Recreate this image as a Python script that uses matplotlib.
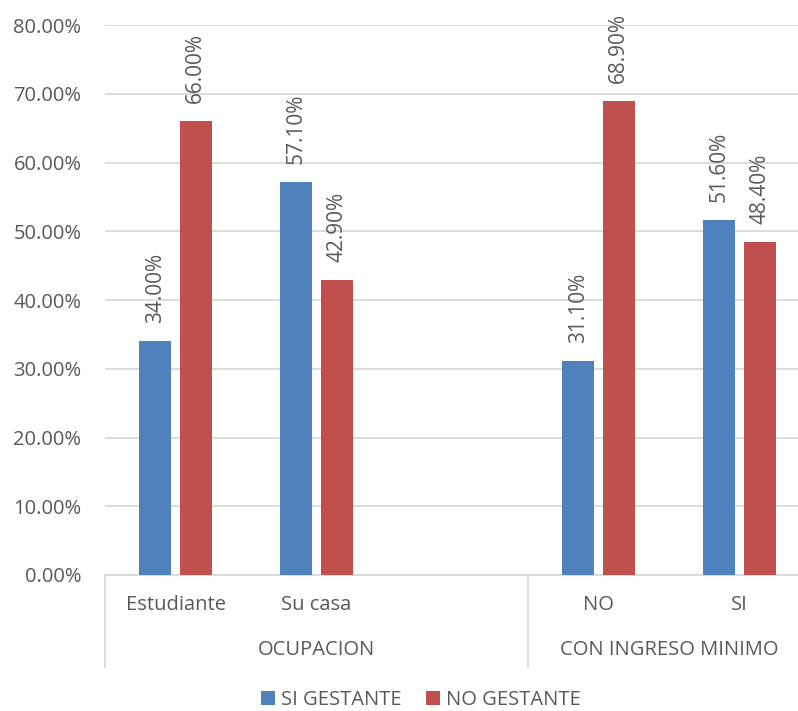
import numpy as np
import matplotlib
matplotlib.use('Agg')
import matplotlib.pyplot as plt
import matplotlib.transforms as mtransforms

plt.rcParams['font.family'] = ['Open Sans', 'DejaVu Sans']

categorias = ['Estudiante', 'Su casa', '', 'NO', 'SI']
si_gestante = [34.0, 57.1, np.nan, 31.1, 51.6]
no_gestante = [66.0, 42.9, np.nan, 68.9, 48.4]
grupos = ['OCUPACION', 'CON INGRESO MINIMO']
grupo_centros = [1, 3.5]
separadores = [-0.5, 2.5, 4.5]

azul = '#4F81BD'
rojo = '#C0504D'
gris_txt = '#595959'
gris_lin = '#D9D9D9'

fig = plt.figure(figsize=(7.98, 7.11), dpi=100)
ax = fig.add_axes([105 / 798, 136 / 711, 705 / 798, 550 / 711])

x = np.arange(len(categorias))
w = 0.227
off = 0.142
b1 = ax.bar(x - off, si_gestante, w, color=azul, label='SI GESTANTE', zorder=3)
b2 = ax.bar(x + off, no_gestante, w, color=rojo, label='NO GESTANTE', zorder=3)

for xs, vals in [(x - off, si_gestante), (x + off, no_gestante)]:
    for xi, v in zip(xs, vals):
        if np.isnan(v):
            continue
        ax.annotate('%.2f%%' % v, (xi, v), xytext=(0, 13), textcoords='offset points',
                    rotation=90, ha='center', va='bottom', fontsize=15, color=gris_txt)

ax.set_xlim(-0.5, 4.5)
ax.set_ylim(0, 80)
ax.set_yticks(np.arange(0, 81, 10))
ax.set_yticklabels(['%.2f%%' % t for t in np.arange(0, 81, 10)])
ax.tick_params(axis='y', length=0, pad=17, labelsize=14.5, labelcolor=gris_txt)
ax.set_xticks([])
ax.yaxis.grid(True, color=gris_lin, linewidth=1.3, zorder=0)
for s in ['top', 'right', 'left']:
    ax.spines[s].set_visible(False)
ax.spines['bottom'].set_color(gris_lin)
ax.spines['bottom'].set_linewidth(1.3)

trans = mtransforms.blended_transform_factory(ax.transData, ax.transAxes)
for xi, c in zip(x, categorias):
    ax.text(xi, -0.055, c, transform=trans, ha='center', va='center',
            fontsize=14.5, color=gris_txt)
for xc, g in zip(grupo_centros, grupos):
    ax.text(xc, -0.137, g, transform=trans, ha='center', va='center',
            fontsize=14.5, color=gris_txt)
for xs in separadores:
    ax.plot([xs, xs], [0, -92 / 550], transform=trans, color=gris_lin,
            linewidth=1.3, clip_on=False)

fig.legend(handles=[b1, b2], loc='center', bbox_to_anchor=(421 / 798, 1 - 700 / 711),
           ncol=2, frameon=False, fontsize=14.5, handlelength=0.7, handleheight=0.7,
           handletextpad=0.3, columnspacing=1.2, labelcolor=gris_txt)

fig.savefig('out.png', dpi=100)
